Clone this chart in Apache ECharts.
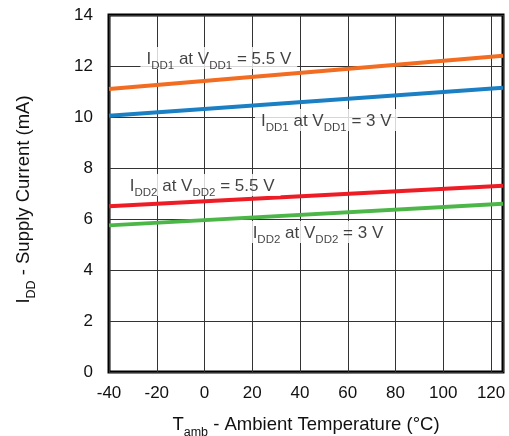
<!DOCTYPE html>
<html>
<head>
<meta charset="utf-8">
<script src="https://cdn.jsdelivr.net/npm/echarts@6/dist/echarts.min.js"></script>
<style>
  html, body { margin: 0; padding: 0; background: #fff; }
  #chart { width: 509px; height: 436px; }
</style>
</head>
<body>
<div id="chart"></div>
<script>
// Supply current vs. ambient temperature
const temps = [-40, 125];
const idd1At55 = [11.1, 12.4];
const idd1At3 = [10.05, 11.15];
const idd2At55 = [6.5, 7.3];
const idd2At3 = [5.75, 6.6];

const xTicks = [-40, -20, 0, 20, 40, 60, 80, 100, 120];
const yTicks = [0, 2, 4, 6, 8, 10, 12, 14];

// Curve annotations: [x, y, rich text]
const curveLabels = [
  [6, 12.31, '{m|I}{s|DD1}{m| at V}{s|DD1}{m| = 5.5 V}'],
  [51, 9.88, '{m|I}{s|DD1}{m| at V}{s|DD1}{m| = 3 V}'],
  [-1, 7.33, '{m|I}{s|DD2}{m| at V}{s|DD2}{m| = 5.5 V}'],
  [47.5, 5.49, '{m|I}{s|DD2}{m| at V}{s|DD2}{m| = 3 V}']
];

const FONT = 'Liberation Sans, Arial, sans-serif';
function richSet(main, sub, lh, drop) {
  return {
    m: { fontSize: main, color: '#111', fontFamily: FONT, lineHeight: lh, verticalAlign: 'bottom' },
    s: { fontSize: sub, color: '#111', fontFamily: FONT, lineHeight: lh, verticalAlign: 'bottom', padding: [0, 0, -drop, 0] }
  };
}
const labelRich = richSet(17, 11.5, 20, 4);
const titleRich = richSet(18.5, 12.5, 22, 5);

function pairs(xs, ys) { return xs.map((x, i) => [x, ys[i]]); }

function lineSeries(name, ys, color) {
  return {
    name, type: 'line', data: pairs(temps, ys), showSymbol: false,
    lineStyle: { color, width: 4 }, z: 3, animation: false
  };
}

const chart = echarts.init(document.getElementById('chart'));
chart.setOption({
  animation: false,
  grid: {
    left: 109, right: 6, top: 15, bottom: 64, outerBoundsMode: 'none', containLabel: false,
    show: true, borderColor: '#000', borderWidth: 3, backgroundColor: 'transparent'
  },
  xAxis: {
    type: 'value', min: xTicks[0], max: 125, interval: 20,
    name: '{m|T}{s|amb}{m| - Ambient Temperature (°C)}',
    nameLocation: 'middle', nameGap: 40,
    nameTextStyle: { rich: titleRich },
    axisLine: { show: false }, axisTick: { show: false },
    axisLabel: { fontSize: 17, color: '#111', fontFamily: FONT, margin: 13, showMaxLabel: false,
      formatter: v => xTicks.includes(v) ? String(v) : '' },
    splitLine: { show: true, lineStyle: { color: '#333', width: 1 } }
  },
  yAxis: {
    type: 'value', min: yTicks[0], max: yTicks[yTicks.length - 1], interval: 2,
    name: '{m|I}{s|DD}{m| - Supply Current (mA)}',
    nameLocation: 'middle', nameGap: 76, nameRotate: 90,
    nameTextStyle: { rich: titleRich, padding: [0, 12, 0, 0] },
    axisLine: { show: false }, axisTick: { show: false },
    axisLabel: { fontSize: 17, color: '#111', fontFamily: FONT, margin: 16 },
    splitLine: { show: true, lineStyle: { color: '#333', width: 1 } }
  },
  series: [
    lineSeries('IDD1 at VDD1 = 5.5 V', idd1At55, '#F26C21'),
    lineSeries('IDD1 at VDD1 = 3 V', idd1At3, '#1B7FC4'),
    lineSeries('IDD2 at VDD2 = 5.5 V', idd2At55, '#EE1C25'),
    lineSeries('IDD2 at VDD2 = 3 V', idd2At3, '#4CB748'),
    {
      type: 'scatter', symbolSize: 0, z: 10, animation: false, silent: true,
      data: curveLabels.map(l => ({ value: [l[0], l[1]], label: { formatter: l[2] } })),
      label: {
        show: true, position: 'inside', backgroundColor: '#fff', padding: [1, 6, 1, 6], rich: labelRich
      }
    }
  ]
});
</script>
</body>
</html>
